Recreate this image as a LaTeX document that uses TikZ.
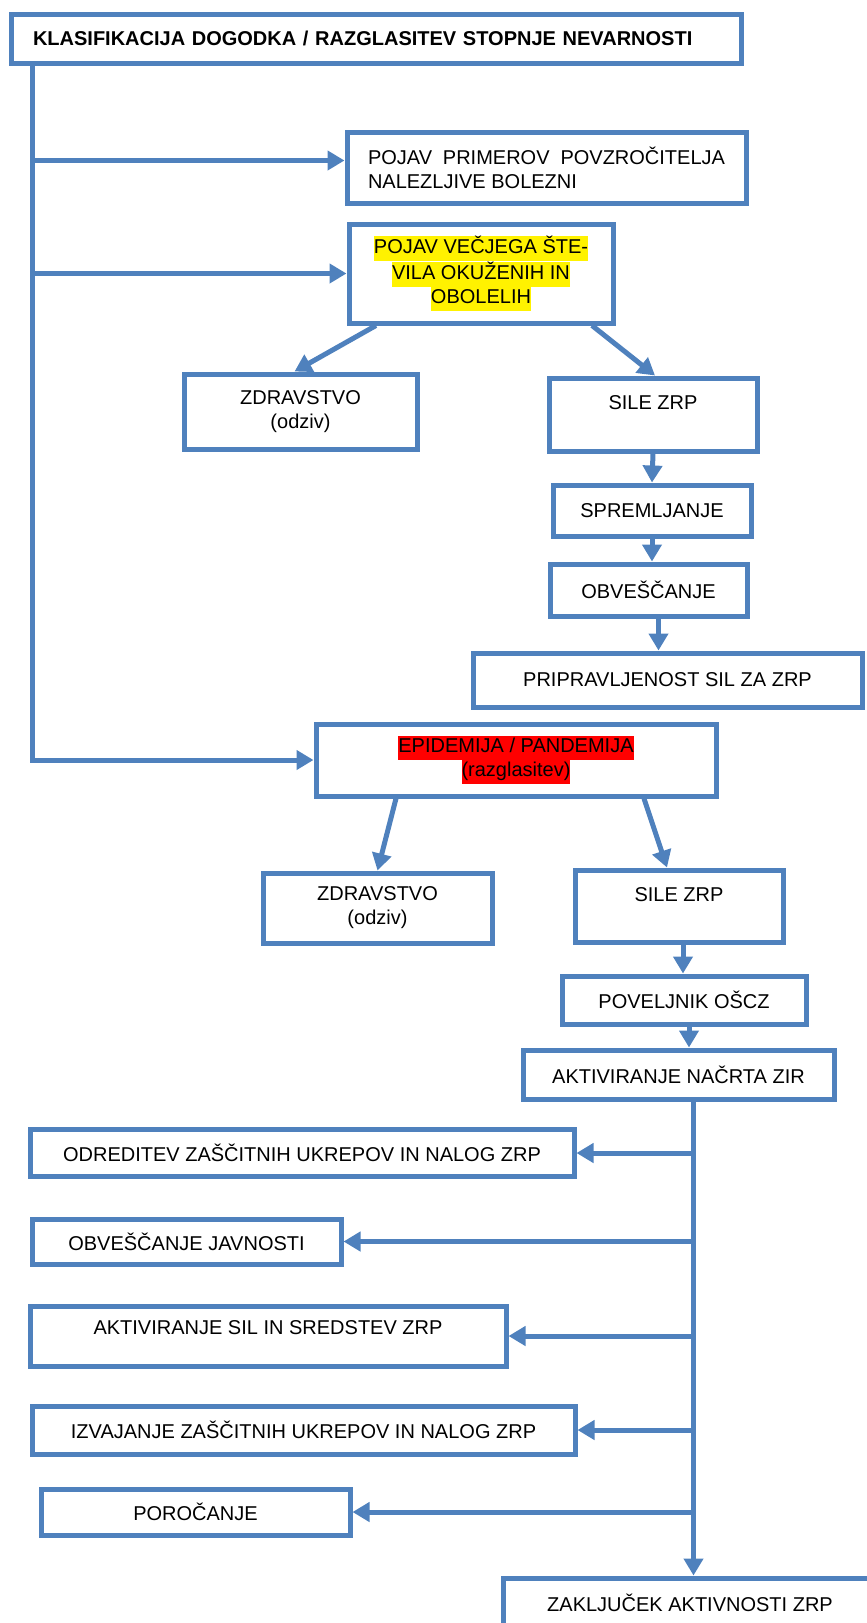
\documentclass[tikz,border=0pt]{standalone}
\usepackage{fontspec}
\setmainfont{Liberation Sans}
\usetikzlibrary{arrows.meta}
\definecolor{zrpblue}{RGB}{79,129,189}
\newcommand{\hlyel}[1]{{\setlength{\fboxsep}{0pt}\colorbox{yellow}{\strut #1}}}
\newcommand{\hlred}[1]{{\setlength{\fboxsep}{0pt}\colorbox{red}{\strut #1}}}
\tikzset{
    box/.style={draw=zrpblue, line width=5pt, inner sep=0pt, align=center,
        font=\fontsize{20}{24}\selectfont},
    topbox/.style={box, text depth=23pt},
    flow/.style={draw=zrpblue, line width=5pt, -{Triangle[length=17pt,width=19pt]}},
}

\begin{document}
\begin{tikzpicture}[x=1pt,y=-1pt]
    \useasboundingbox (0,0) rectangle (867,1623);
    \clip (0,0) rectangle (867,1623);

    % Classification
    \node[box, minimum width=730pt, minimum height=49pt, text width=686pt, inner xsep=22pt,
        align=left, font=\fontsize{20}{24}\selectfont\bfseries] (klas) at (376,38.5)
        {KLASIFIKACIJA DOGODKA / RAZGLASITEV STOPNJE NEVARNOSTI};

    % First stage
    \node[box, minimum width=399pt, minimum height=71pt, text width=357pt, inner xsep=21pt,
        align=justify] (primer) at (546.5,167.5)
        {POJAV PRIMEROV POVZROČITELJA NALEZLJIVE BOLEZNI};
    \node[box, minimum width=264pt, minimum height=99pt] (vecj) at (481,273.5)
        {\hlyel{POJAV VEČJEGA ŠTE-}\\\hlyel{VILA OKUŽENIH IN}\\\hlyel{OBOLELIH}};
    \node[box, minimum width=233pt, minimum height=75pt] (zdr1) at (300.5,411.5) {ZDRAVSTVO\\(odziv)};
    \node[topbox, minimum width=208pt, minimum height=73pt] (sile1) at (653,414.5) {SILE ZRP};
    \node[box, minimum width=198pt, minimum height=51pt] (spreml) at (652,510.5) {SPREMLJANJE};
    \node[box, minimum width=197pt, minimum height=52pt] (obvesc) at (648.5,590) {OBVEŠČANJE};
    \node[box, minimum width=389pt, minimum height=54pt] (priprav) at (667.5,680) {PRIPRAVLJENOST SIL ZA ZRP};

    % Second stage
    \node[box, minimum width=400pt, minimum height=72pt] (epid) at (516,760)
        {\hlred{EPIDEMIJA / PANDEMIJA}\\\hlred{(razglasitev)}};
    \node[box, minimum width=229pt, minimum height=70pt] (zdr2) at (377.5,908) {ZDRAVSTVO\\(odziv)};
    \node[topbox, minimum width=208pt, minimum height=72pt] (sile2) at (679,906) {SILE ZRP};
    \node[box, minimum width=244pt, minimum height=48pt] (povelj) at (684,1000) {POVELJNIK OŠCZ};
    \node[box, minimum width=311pt, minimum height=49pt] (aktiv) at (678.5,1074.5) {AKTIVIRANJE NAČRTA ZIR};

    % Measures
    \node[box, minimum width=544pt, minimum height=47pt] (odred) at (302,1153) {ODREDITEV ZAŠČITNIH UKREPOV IN NALOG ZRP};
    \node[box, minimum width=309pt, minimum height=45pt] (javnost) at (186.5,1241.5) {OBVEŠČANJE JAVNOSTI};
    \node[box, minimum width=476pt, minimum height=60pt, text depth=17pt] (sredst) at (268,1336) {AKTIVIRANJE SIL IN SREDSTEV ZRP};
    \node[box, minimum width=543pt, minimum height=48pt] (izvaj) at (303.5,1430) {IZVAJANJE ZAŠČITNIH UKREPOV IN NALOG ZRP};
    \node[box, minimum width=309pt, minimum height=46pt] (poroc) at (195.5,1512) {POROČANJE};
    \node[box, minimum width=374pt, minimum height=50pt] (zaklj) at (690,1603) {ZAKLJUČEK AKTIVNOSTI ZRP};

    % Left trunk
    \coordinate (trunk) at ([xshift=24pt]klas.south west);
    \coordinate (p1) at ([yshift=7pt]primer.west);
    \draw[flow] (trunk) |- (epid.west);
    \draw[flow] (p1 -| trunk) -- (p1);
    \draw[flow] (vecj.west -| trunk) -- (vecj.west);

    % First stage arrows
    \coordinate (o1) at ([xshift=10pt]obvesc.south);
    \draw[flow] ([xshift=-105pt]vecj.south) -- ([xshift=-6pt]zdr1.north);
    \draw[flow] ([xshift=111pt]vecj.south) -- ([xshift=2pt]sile1.north);
    \draw[flow] (sile1.south) -- (spreml.north);
    \draw[flow] (spreml.south) -- (spreml.south |- obvesc.north);
    \draw[flow] (o1) -- (o1 |- priprav.north);

    % Second stage arrows
    \coordinate (s2) at ([xshift=4pt]sile2.south);
    \coordinate (pv) at ([xshift=5pt]povelj.south);
    \draw[flow] ([xshift=-120pt]epid.south) -- (zdr2.north);
    \draw[flow] ([xshift=128pt]epid.south) -- ([xshift=-12pt]sile2.north);
    \draw[flow] (s2) -- (s2 |- povelj.north);
    \draw[flow] (pv) -- (pv |- aktiv.north);

    % Right trunk
    \coordinate (branch) at ([xshift=15pt]aktiv.south);
    \draw[flow] (branch) -- (branch |- zaklj.north);
    \foreach \b in {odred,javnost,sredst,izvaj,poroc}
        \draw[flow] (\b.east -| branch) -- (\b.east);
\end{tikzpicture}
\end{document}
